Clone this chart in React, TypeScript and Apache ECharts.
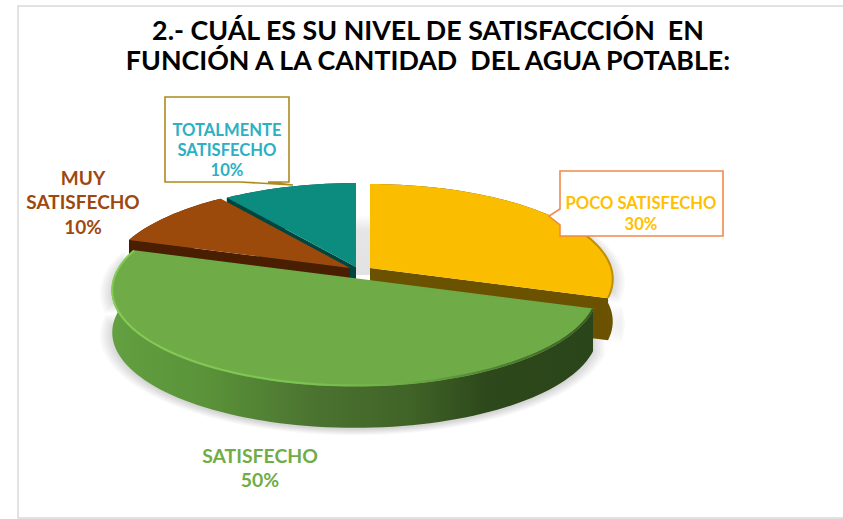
import React, { useEffect, useRef } from "react";
import * as echarts from "echarts";

const categories = ["POCO SATISFECHO", "SATISFECHO", "MUY SATISFECHO", "TOTALMENTE SATISFECHO"];
const percentages = [30, 50, 10, 10];
const titleLines = ["2.- CUÁL ES SU NIVEL DE SATISFACCIÓN  EN", "FUNCIÓN A LA CANTIDAD  DEL AGUA POTABLE:"];

const topColors = ["#FBBD00", "#6FAB47", "#9C4A0B", "#0C8C7F"];
const wallColors = ["#6B5200", "#2B451A", "#4A1E00", "#00463F"];
const labelColors = ["#FFC000", "#70AD47", "#9E480E", "#2BB0C4"];
const apexes: number[][] = [[370, 268], [355, 279], [350, 268], [356, 267]];
const layers = [1, 3, 2, 1];
const shadowScales = [1.0, 1.01, 1.02, 1.03, 1.04, 1.05];

const A = 241, B = 94, K = 0.12, DEPTH = 42;
const FONT = "Lato";

function pt(apex: number[], deg: number, dy = 0, s = 1): number[] {
  const t = (deg * Math.PI) / 180;
  const u = Math.sin(t), v = -Math.cos(t);
  const w = 1 - K * v;
  return [apex[0] + (s * A * u) / w, apex[1] + (s * B * v) / w + dy];
}
function arc(apex: number[], a: number, b: number, dy = 0, s = 1): number[][] {
  const out: number[][] = [];
  const n = Math.max(2, Math.ceil(Math.abs(b - a) / 2));
  for (let i = 0; i <= n; i++) out.push(pt(apex, a + ((b - a) * i) / n, dy, s));
  return out;
}

function renderSlice(params: any, api: any) {
  const i = params.dataIndex;
  let before = 0;
  for (let j = 0; j < i; j++) before += percentages[j];
  const total = percentages.reduce((s, x) => s + x, 0);
  const a0 = (before / total) * 360;
  const a1 = ((before + api.value(0)) / total) * 360;
  const apex = apexes[i];
  const z = layers[i] * 10;
  const isGreen = i === 1;
  const isYellow = i === 0;

  const rimFill = isGreen
    ? new echarts.graphic.LinearGradient(0, 0, 1, 0, [
        { offset: 0, color: "#62A040" },
        { offset: 0.2, color: "#5A9239" },
        { offset: 0.42, color: "#4B7330" },
        { offset: 0.62, color: "#406327" },
        { offset: 0.78, color: "#2D481B" },
        { offset: 1, color: "#2B451A" },
      ])
    : wallColors[i];

  const children: any[] = [];
  if (isGreen || isYellow) {
    const from = isGreen ? a0 : 60;
    shadowScales.forEach((s) => {
      children.push({
        type: "polygon",
        z2: 1,
        shape: { points: [...arc(apex, from, a1, 2, s), ...arc(apex, a1, from, DEPTH + 2, s)] },
        style: { fill: "rgba(0,0,0,0.028)" },
      });
    });
  }
  children.push({
    type: "polygon",
    z2: z,
    shape: { points: [...arc(apex, a0, a1), ...arc(apex, a1, a0, DEPTH)] },
    style: { fill: rimFill },
  });
  const wallEdges = isYellow ? [a1] : isGreen ? [] : [a0];
  wallEdges.forEach((e) => {
    const r = pt(apex, e);
    children.push({
      type: "polygon",
      z2: z + 1,
      shape: { points: [apex, r, [r[0], r[1] + DEPTH], [apex[0], apex[1] + DEPTH]] },
      style: { fill: wallColors[i] },
    });
  });
  children.push({
    type: "polygon",
    z2: z + 2,
    shape: { points: [apex, ...arc(apex, a0, a1)] },
    style: { fill: topColors[i], stroke: isGreen ? topColors[i] : undefined, lineWidth: isGreen ? 1.5 : 0, lineJoin: "round" },
  });
  if (isGreen) {
    children.push({
      type: "polyline",
      z2: z + 3,
      shape: { points: arc(apex, a0, a1, -0.5) },
      style: {
        fill: "none",
        lineWidth: 2,
        stroke: new echarts.graphic.LinearGradient(0, 0, 1, 0, [
          { offset: 0, color: "#84CC56" },
          { offset: 0.4, color: "#7DC351" },
          { offset: 0.6, color: "#6FAD48" },
          { offset: 0.8, color: "#4F7F33" },
          { offset: 1, color: "#3A5A24" },
        ]),
      },
    });
  }
  if (isYellow) {
    children.push({
      type: "polyline",
      z2: z + 3,
      shape: { points: arc(apex, 68, a1, -0.5) },
      style: { fill: "none", lineWidth: 2, stroke: "#C08F00" },
    });
  }
  return { type: "group", children };
}

function label(lines: string[], x: number, ys: number[], color: string, size: number) {
  return lines.map((t, k) => ({
    type: "text",
    z: 20,
    style: {
      text: t,
      x,
      y: ys[k],
      fill: color,
      font: `bold ${size}px ${FONT}`,
      textAlign: "center",
      textVerticalAlign: "middle",
    },
  }));
}

export default function App() {
  const ref = useRef<HTMLDivElement>(null);
  useEffect(() => {
    const chart = echarts.init(ref.current!, undefined, { renderer: "svg" });
    const pct = percentages.map((v) => `${v}%`);
    chart.setOption({
      animation: false,
      backgroundColor: "#ffffff",
      title: {
        text: titleLines.join("\n"),
        left: 423,
        top: 10,
        textAlign: "center",
        textStyle: { fontFamily: FONT, fontWeight: "bold", fontSize: 26.8, lineHeight: 30, color: "#000000" },
      },
      graphic: [
        { type: "rect", z: -1, shape: { x: 18, y: 6, width: 840, height: 512 }, style: { fill: "none", stroke: "#D9D9D9", lineWidth: 1.5 } },
        {
          type: "rect",
          z: 0,
          shape: { x: 350, y: 215, width: 26, height: 60 },
          style: {
            fill: new echarts.graphic.LinearGradient(0, 0, 0, 1, [
              { offset: 0, color: "#FFFFFF" },
              { offset: 0.25, color: "#E6E6E6" },
              { offset: 1, color: "#E2E2E2" },
            ]),
          },
        },
        {
          type: "polygon",
          z: 15,
          shape: { points: [[560, 171], [723, 171], [723, 236], [560, 236], [560, 225], [549, 216], [560, 209]] },
          style: { fill: "#FFFFFF", stroke: "#F08A4B", lineWidth: 1.6 },
        },
        {
          type: "polygon",
          z: 15,
          shape: { points: [[165, 97], [289, 97], [289, 182], [268, 182], [293, 185], [240, 182], [165, 182]] },
          style: { fill: "#FFFFFF", stroke: "#AC8B1E", lineWidth: 1.6 },
        },
        ...label([categories[0], pct[0]], 641, [203, 224], labelColors[0], 16.6),
        ...label(["TOTALMENTE", "SATISFECHO", pct[3]], 227, [130, 150, 170], labelColors[3], 16.6),
        ...label(["MUY", "SATISFECHO", pct[2]], 83, [177, 201, 226], labelColors[2], 19),
        ...label([categories[1], pct[1]], 260, [455, 479], labelColors[1], 19.4),
      ],
      series: [
        {
          type: "custom",
          coordinateSystem: "none",
          z: 5,
          silent: true,
          clip: false,
          renderItem: renderSlice,
          data: categories.map((name, i) => ({ name, value: [percentages[i]] })),
        },
      ],
    });
    return () => chart.dispose();
  }, []);
  return <div ref={ref} style={{ position: "fixed", left: 0, top: 0, width: 843, height: 519 }} />;
}
